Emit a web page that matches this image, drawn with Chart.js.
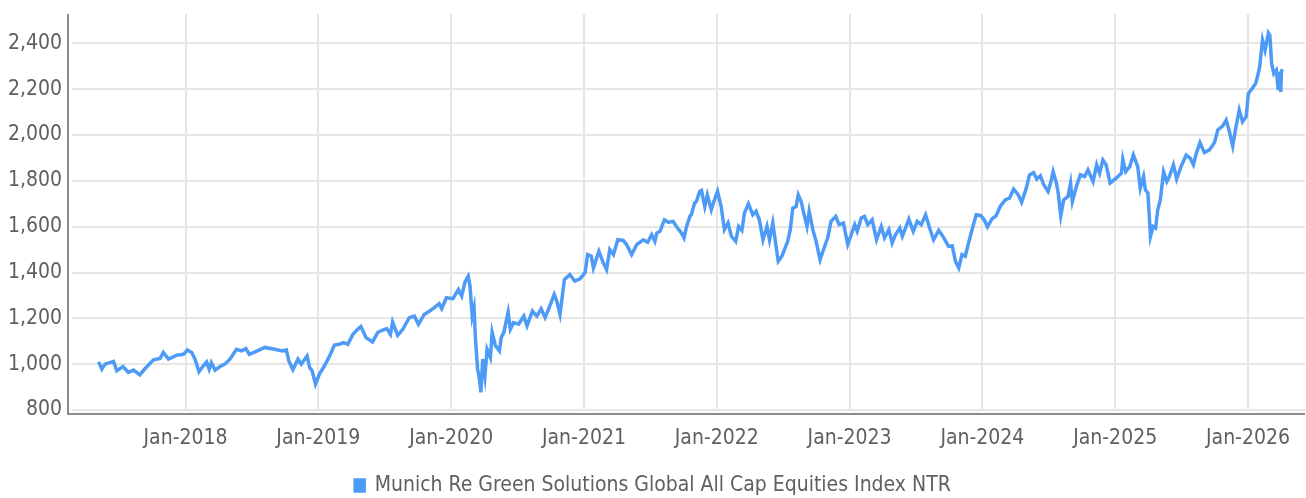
<!DOCTYPE html>
<html>
<head>
<meta charset="utf-8">
<script src="https://cdn.jsdelivr.net/npm/chart.js@4.4.1/dist/chart.umd.min.js"></script>
<style>
    html, body { margin: 0; padding: 0; background: #fff; }
    #wrap { width: 1306px; height: 498px; }
</style>
</head>
<body>
<div id="wrap"><canvas id="chart"></canvas></div>
<script>
const seriesName = 'Munich Re Green Solutions Global All Cap Equities Index NTR';

const dates = [
    '2017-05-07', '2017-05-16', '2017-05-25', '2017-06-17', '2017-06-26', '2017-07-13', '2017-07-28', '2017-08-11',
    '2017-08-28', '2017-09-12', '2017-10-05', '2017-10-23', '2017-11-01', '2017-11-15', '2017-12-08', '2017-12-26',
    '2018-01-06', '2018-01-18', '2018-01-27', '2018-02-07', '2018-02-19', '2018-02-28', '2018-03-07', '2018-03-13',
    '2018-03-23', '2018-04-06', '2018-04-19', '2018-05-03', '2018-05-21', '2018-06-04', '2018-06-16', '2018-06-25',
    '2018-07-10', '2018-08-07', '2018-09-03', '2018-09-24', '2018-10-05', '2018-10-12', '2018-10-23', '2018-11-06',
    '2018-11-15', '2018-12-01', '2018-12-08', '2018-12-15', '2018-12-24',
    '2019-01-04', '2019-01-18', '2019-02-01', '2019-02-14', '2019-02-28', '2019-03-11', '2019-03-23', '2019-04-06',
    '2019-04-19', '2019-04-28', '2019-05-12', '2019-05-30', '2019-06-13', '2019-06-27', '2019-07-08', '2019-07-18',
    '2019-07-24', '2019-08-07', '2019-08-21', '2019-09-08', '2019-09-22', '2019-10-03', '2019-10-19', '2019-11-03',
    '2019-11-15', '2019-11-29', '2019-12-06', '2019-12-19',
    '2020-01-06', '2020-01-21', '2020-01-30', '2020-02-08', '2020-02-17', '2020-02-22', '2020-02-28', '2020-03-04',
    '2020-03-08', '2020-03-14', '2020-03-19', '2020-03-23', '2020-03-28', '2020-04-03', '2020-04-09', '2020-04-18',
    '2020-04-23', '2020-05-02', '2020-05-13', '2020-05-18', '2020-05-25', '2020-06-06', '2020-06-12', '2020-06-21',
    '2020-07-05', '2020-07-19', '2020-07-28', '2020-08-12', '2020-08-24', '2020-09-05', '2020-09-16', '2020-09-29',
    '2020-10-11', '2020-10-18', '2020-10-27', '2020-11-08', '2020-11-23', '2020-12-07', '2020-12-21',
    '2021-01-04', '2021-01-11', '2021-01-21', '2021-01-27', '2021-02-11', '2021-02-23', '2021-03-04', '2021-03-13',
    '2021-03-23', '2021-04-04', '2021-04-19', '2021-04-28', '2021-05-12', '2021-05-26', '2021-06-13', '2021-06-25',
    '2021-07-06', '2021-07-15', '2021-07-20', '2021-07-29', '2021-08-10', '2021-08-21', '2021-09-03', '2021-09-15',
    '2021-09-26', '2021-10-03', '2021-10-10', '2021-10-19', '2021-10-23', '2021-11-01', '2021-11-06', '2021-11-15',
    '2021-11-20', '2021-11-29', '2021-12-06', '2021-12-17', '2021-12-24',
    '2022-01-03', '2022-01-13', '2022-01-22', '2022-02-01', '2022-02-10', '2022-02-22', '2022-03-02', '2022-03-11',
    '2022-03-18', '2022-03-29', '2022-04-10', '2022-04-19', '2022-04-28', '2022-05-08', '2022-05-19', '2022-05-26',
    '2022-06-04', '2022-06-13', '2022-06-19', '2022-06-29', '2022-07-06', '2022-07-15', '2022-07-22', '2022-07-29',
    '2022-08-07', '2022-08-13', '2022-08-21', '2022-08-28', '2022-09-06', '2022-09-12', '2022-09-22', '2022-10-01',
    '2022-10-12', '2022-10-23', '2022-11-02', '2022-11-11', '2022-11-24', '2022-12-03', '2022-12-15', '2022-12-27',
    '2023-01-04', '2023-01-15', '2023-01-22', '2023-02-02', '2023-02-11', '2023-02-20', '2023-03-04', '2023-03-16',
    '2023-03-29', '2023-04-07', '2023-04-19', '2023-04-28', '2023-05-07', '2023-05-19', '2023-05-26', '2023-06-13',
    '2023-06-25', '2023-07-06', '2023-07-17', '2023-07-29', '2023-08-09', '2023-08-20', '2023-09-03', '2023-09-17',
    '2023-09-30', '2023-10-10', '2023-10-19', '2023-10-28', '2023-11-06', '2023-11-15', '2023-11-24', '2023-12-06',
    '2023-12-15', '2023-12-28',
    '2024-01-06', '2024-01-15', '2024-01-27', '2024-02-08', '2024-02-19', '2024-03-04', '2024-03-16', '2024-03-27',
    '2024-04-09', '2024-04-18', '2024-05-01', '2024-05-10', '2024-05-21', '2024-05-30', '2024-06-09', '2024-06-18',
    '2024-06-30', '2024-07-07', '2024-07-14', '2024-07-23', '2024-07-28', '2024-08-04', '2024-08-12', '2024-08-24',
    '2024-08-31', '2024-09-05', '2024-09-16', '2024-09-27', '2024-10-09', '2024-10-18', '2024-11-01', '2024-11-11',
    '2024-11-19', '2024-11-28', '2024-12-07', '2024-12-18',
    '2025-01-04', '2025-01-18', '2025-01-22', '2025-01-30', '2025-02-10', '2025-02-20', '2025-03-04', '2025-03-11',
    '2025-03-20', '2025-03-25', '2025-04-01', '2025-04-08', '2025-04-15', '2025-04-22', '2025-04-28', '2025-05-05',
    '2025-05-14', '2025-05-23', '2025-05-30', '2025-06-10', '2025-06-19', '2025-07-01', '2025-07-15', '2025-07-26',
    '2025-08-04', '2025-08-12', '2025-08-22', '2025-09-03', '2025-09-17', '2025-10-01', '2025-10-10', '2025-10-23',
    '2025-11-02', '2025-11-11', '2025-11-20', '2025-11-29', '2025-12-08', '2025-12-17', '2025-12-27',
    '2026-01-02', '2026-01-13', '2026-01-22', '2026-01-27', '2026-02-02', '2026-02-10', '2026-02-17', '2026-02-26',
    '2026-03-02', '2026-03-07', '2026-03-13', '2026-03-20', '2026-03-25', '2026-03-29', '2026-04-01', '2026-04-03',
    '2026-04-07'
];

const values = [
    1010, 978, 1000, 1012, 971, 990, 964, 974,
    953, 981, 1019, 1025, 1051, 1022, 1039, 1043,
    1062, 1051, 1022, 967, 993, 1010, 978, 1007,
    974, 990, 1000, 1022, 1065, 1058, 1068, 1043,
    1053, 1073, 1065, 1058, 1062, 1014, 976, 1022,
    1000, 1036, 985, 971, 913,
    957, 993, 1036, 1083, 1087, 1094, 1087, 1130,
    1152, 1164, 1116, 1097, 1138, 1149, 1155, 1130,
    1184, 1126, 1152, 1203, 1210, 1174, 1217, 1232,
    1246, 1264, 1242, 1290,
    1286, 1326, 1297, 1358, 1384, 1340, 1210, 1246,
    1109, 978, 935, 877, 1022, 949, 1065, 1029,
    1138, 1080, 1058, 1116, 1138, 1227, 1152, 1181,
    1174, 1210, 1167, 1232, 1210, 1242, 1203, 1254,
    1304, 1275, 1217, 1369, 1391, 1362, 1372,
    1399, 1478, 1471, 1420, 1493, 1442, 1413, 1500,
    1478, 1543, 1540, 1522, 1478, 1522, 1543, 1532,
    1565, 1536, 1572, 1580, 1630, 1619, 1623, 1594,
    1572, 1551, 1601, 1645, 1652, 1703, 1710, 1754,
    1758, 1688, 1739, 1674, 1710,
    1754, 1688, 1587, 1616, 1558, 1536, 1601, 1584,
    1659, 1700, 1652, 1667, 1630, 1543, 1601, 1543,
    1616, 1514, 1449, 1471, 1500, 1536, 1587, 1681,
    1688, 1739, 1710, 1659, 1601, 1667, 1587, 1536,
    1456, 1507, 1551, 1623, 1645, 1609, 1616, 1522,
    1558, 1609, 1580, 1638, 1645, 1609, 1630, 1543,
    1601, 1551, 1587, 1529, 1565, 1594, 1558, 1633,
    1580, 1623, 1609, 1652, 1594, 1543, 1584, 1551,
    1514, 1517, 1449, 1420, 1478, 1471, 1529, 1601,
    1652, 1648,
    1630, 1599, 1633, 1648, 1688, 1717, 1725, 1764,
    1739, 1706, 1768, 1826, 1836, 1808, 1822, 1783,
    1754, 1790, 1840, 1790, 1746, 1648, 1717, 1732,
    1790, 1710, 1775, 1826, 1819, 1848, 1797, 1870,
    1833, 1891, 1870, 1790,
    1812, 1833, 1894, 1840, 1862, 1913, 1862, 1768,
    1819, 1761, 1746, 1558, 1601, 1594, 1674, 1717,
    1840, 1797, 1819, 1870, 1808, 1862, 1913, 1899,
    1870, 1920, 1967, 1923, 1935, 1967, 2022, 2039,
    2065, 2014, 1952, 2036, 2109, 2058, 2080,
    2181, 2204, 2225, 2254, 2297, 2414, 2370, 2445,
    2435, 2312, 2268, 2283, 2196, 2276, 2188, 2280,
    2286
];

const yearTicks = [2018, 2019, 2020, 2021, 2022, 2023, 2024, 2025, 2026];
const yTicks = [800, 1000, 1200, 1400, 1600, 1800, 2000, 2200, 2400];

function toYear(s) {
    const d = new Date(s + 'T00:00:00Z');
    const y = d.getUTCFullYear();
    const start = Date.UTC(y, 0, 1);
    const end = Date.UTC(y + 1, 0, 1);
    return y + (d.getTime() - start) / (end - start);
}

const points = dates.map((d, i) => ({ x: toYear(d), y: values[i] }));

const FONT = "'Liberation Sans Narrow', 'DejaVu Sans Condensed', Roboto, sans-serif";
const TEXT = '#5f5f5f';
const GRID = '#e6e6e6';

// axis lines sit a few px outside the plot area in the original
const axisLines = {
    id: 'axisLines',
    afterDraw(chart) {
        const { ctx, chartArea } = chart;
        ctx.save();
        ctx.strokeStyle = '#8c8c8c';
        ctx.lineWidth = 2;
        ctx.beginPath();
        ctx.moveTo(chartArea.left - 4, chartArea.top);
        ctx.lineTo(chartArea.left - 4, chartArea.bottom + 4);
        ctx.lineTo(chartArea.right, chartArea.bottom + 4);
        ctx.stroke();
        ctx.restore();
    }
};

new Chart(document.getElementById('chart'), {
    type: 'line',
    data: {
        datasets: [{
            label: seriesName,
            data: points,
            borderColor: '#4d9bf7',
            backgroundColor: '#4d9bf7',
            borderWidth: 3.5,
            pointRadius: 0,
            tension: 0,
            fill: false
        }]
    },
    options: {
        responsive: true,
        maintainAspectRatio: false,
        animation: false,
        layout: { padding: { top: 14, right: 0, left: 0, bottom: -8 } },
        scales: {
            x: {
                type: 'linear',
                min: 2017.145,
                max: 2026.43,
                afterBuildTicks: (scale) => {
                    scale.ticks = yearTicks.map(v => ({ value: v }));
                },
                afterFit: (scale) => { scale.height = 62; },
                grid: { color: GRID, lineWidth: 2, drawTicks: false },
                border: { display: false },
                ticks: {
                    padding: 16,
                    color: TEXT,
                    font: { family: FONT, size: 21 },
                    maxRotation: 0,
                    callback: (v) => 'Jan-' + v
                }
            },
            y: {
                min: 800,
                max: 2528,
                afterBuildTicks: (scale) => {
                    scale.ticks = yTicks.map(v => ({ value: v }));
                },
                afterFit: (scale) => {
                    scale.width = 72;
                    scale.paddingTop = 0;
                    scale.paddingBottom = 0;
                },
                grid: { color: GRID, lineWidth: 2, drawTicks: false },
                border: { display: false },
                ticks: {
                    padding: 10,
                    color: TEXT,
                    font: { family: FONT, size: 21 },
                    callback: (v) => v.toLocaleString('en-US')
                }
            }
        },
        plugins: {
            legend: {
                position: 'bottom',
                labels: {
                    color: TEXT,
                    font: { family: FONT, size: 21 },
                    boxWidth: 9,
                    boxHeight: 11,
                    padding: 3
                }
            },
            tooltip: { enabled: false }
        }
    },
    plugins: [axisLines]
});
</script>
</body>
</html>
